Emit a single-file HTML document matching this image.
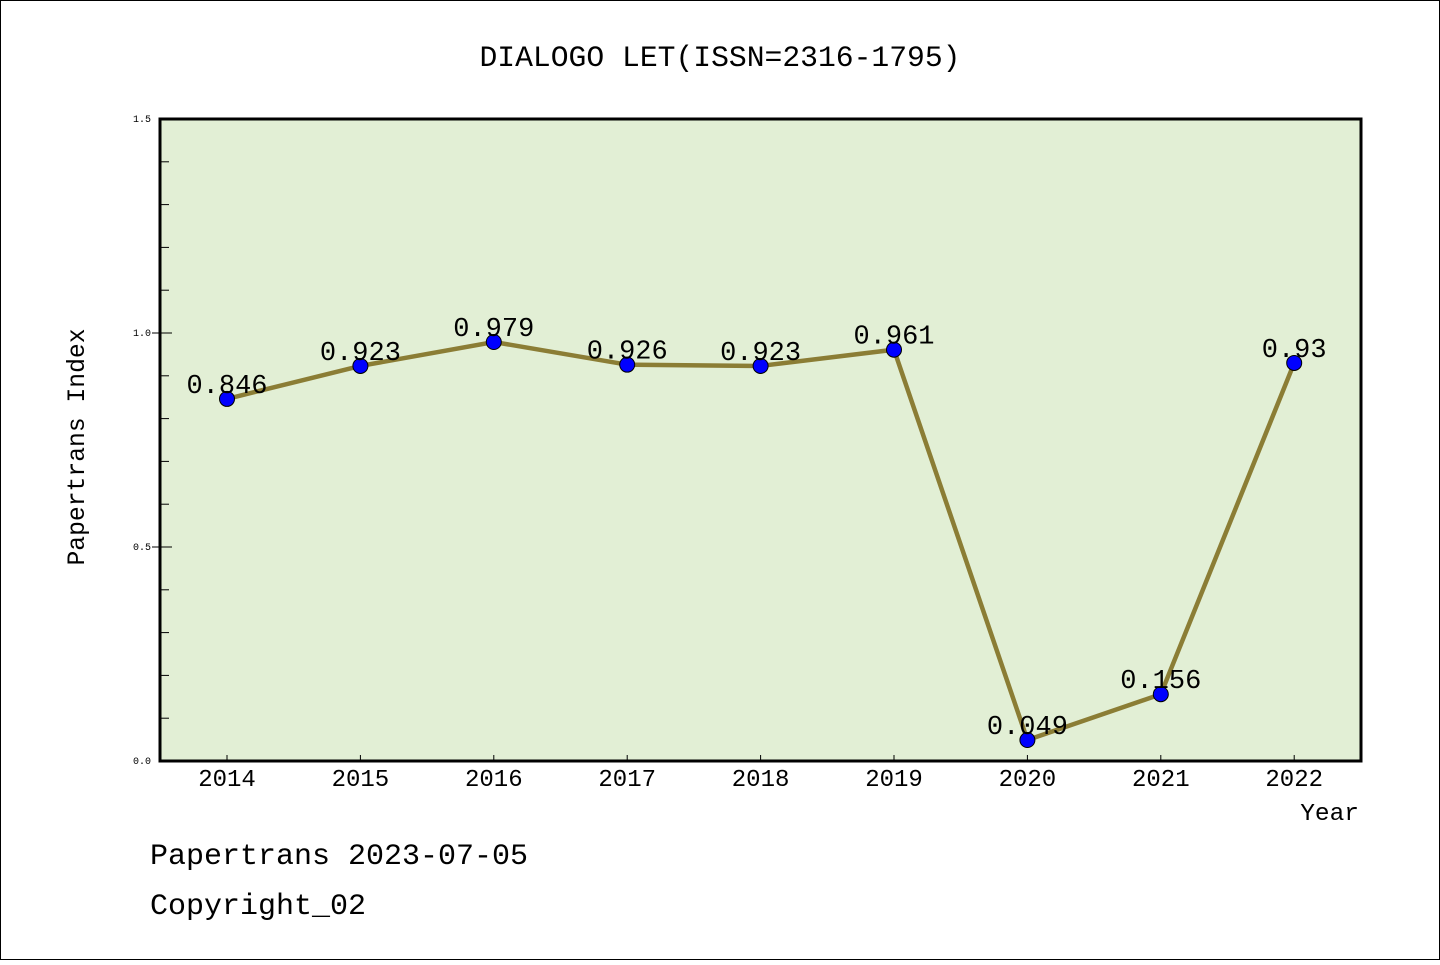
<!DOCTYPE html>
<html><head><meta charset="utf-8"><style>
body{margin:0;background:#fff}
svg text{font-family:"Liberation Mono","Noto Sans CJK SC",monospace;fill:#000}
</style></head><body>
<svg width="1440" height="960">
<rect x="0.5" y="0.5" width="1439" height="959" fill="#fff" stroke="#000"/>
<text x="720" y="66" font-size="29.7" text-anchor="middle">DIALOGO LET(ISSN=2316-1795)</text>
<rect x="160" y="119" width="1201" height="642" fill="#e2efd5"/>
<g id="ticks"></g>
<g id="series"></g>
<rect x="160" y="119" width="1201" height="642" fill="none" stroke="#000" stroke-width="3"/>
<text x="84" y="447" font-size="24.7" text-anchor="middle" transform="rotate(-90 84 447)">Papertrans Index</text>
<text x="1359" y="820" font-size="24.5" text-anchor="end">Year</text>
<text x="150" y="864" font-size="30">Papertrans 2023-07-05</text>
<text x="150" y="914" font-size="30">Copyright_02</text>
</svg>
<script>
const years=["2014","2015","2016","2017","2018","2019","2020","2021","2022"];
const values=[0.846,0.923,0.979,0.926,0.923,0.961,0.049,0.156,0.93];
const labels=["0.846","0.923","0.979","0.926","0.923","0.961","0.049","0.156","0.93"];
const yTicks=["0.0","0.5","1.0","1.5"];
const NS="http://www.w3.org/2000/svg";
const x=i=>227+i*133.4;
const y=v=>761-v*(642/1.5);
function mk(t,a,p){const e=document.createElementNS(NS,t);for(const k in a)e.setAttribute(k,a[k]);p.appendChild(e);return e;}
const tg=document.getElementById('ticks'),sg=document.getElementById('series');
for(let k=1;k<15;k++){const v=k/10;const l=mk('line',{x1:160,x2:(k%5==0)?172:169,y1:y(v),y2:y(v),stroke:'#000','stroke-width':1},tg);


if(k%5==0){mk('line',{x1:152,x2:160,y1:y(v),y2:y(v),stroke:'#000','stroke-width':1},tg);}}
yTicks.forEach(s=>{const t=mk('text',{x:151,y:y(parseFloat(s))+3,'font-size':10,'text-anchor':'end'},tg);t.textContent=s;

});
years.forEach((s,i)=>{mk('line',{x1:x(i),x2:x(i),y1:755,y2:761,stroke:'#000'},tg);
const t=mk('text',{x:x(i),y:786,'font-size':24,'text-anchor':'middle'},tg);t.textContent=s;

});
const pl=mk('polyline',{points:values.map((v,i)=>x(i)+','+y(v)).join(' '),fill:'none',stroke:'#8b7d35','stroke-width':4.5},sg);


values.forEach((v,i)=>{const c=mk('circle',{cx:x(i),cy:y(v),r:7.5,fill:'#0000ff',stroke:'#000','stroke-width':1},sg);


const t=mk('text',{x:x(i),y:y(v)-6,'font-size':27,'text-anchor':'middle'},sg);t.textContent=labels[i];

});
</script>
</body></html>
